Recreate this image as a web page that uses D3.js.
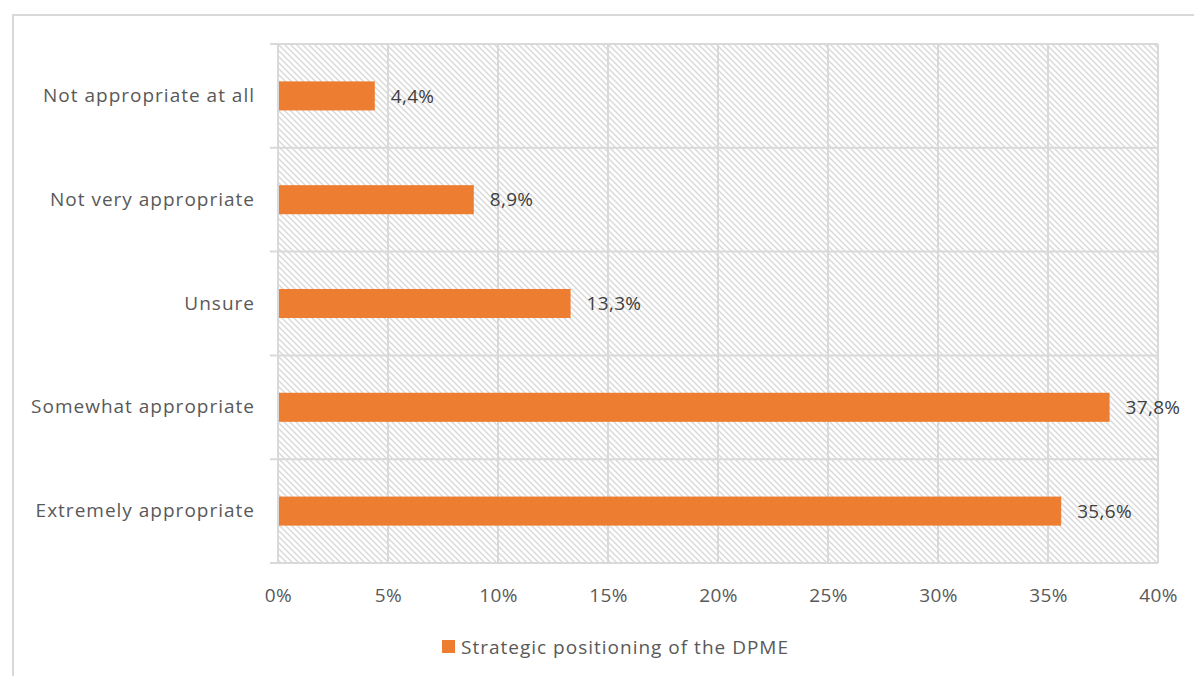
<!DOCTYPE html>
<html>
<head>
<meta charset="utf-8">
<script src="https://cdn.jsdelivr.net/npm/d3@7"></script>
<style>
  html, body { margin: 0; padding: 0; background: #fff; }
  svg { display: block; }
  text { font-family: "Open Sans", "Liberation Sans", sans-serif; }
</style>
</head>
<body>
<svg id="chart" width="1194" height="676"></svg>
<script>
// Survey responses: strategic positioning of the DPME
const categories = [
  "Not appropriate at all",
  "Not very appropriate",
  "Unsure",
  "Somewhat appropriate",
  "Extremely appropriate"
];
const shares = [4.4, 8.9, 13.3, 37.8, 35.6];
const xTicks = [0, 5, 10, 15, 20, 25, 30, 35, 40];
const seriesName = "Strategic positioning of the DPME";

const W = 1194, H = 676;
const margin = { top: 44, right: 36, bottom: 113, left: 278 };
const gridColor = "#d9d9d9";
const barColor = "#ed7d31";
const labelColor = "#595959";
const fontSize = "19px";

const svg = d3.select("#chart");

// outer frame
svg.append("rect")
  .attr("x", 13).attr("y", 15)
  .attr("width", W + 10).attr("height", H + 10)
  .attr("fill", "none").attr("stroke", gridColor).attr("stroke-width", 2);

// diagonal hatch fill for the plot area
const defs = svg.append("defs");
const pat = defs.append("pattern")
  .attr("id", "hatch")
  .attr("patternUnits", "userSpaceOnUse")
  .attr("width", 6).attr("height", 6);
pat.append("path")
  .attr("d", "M-1,-1 L7,7 M-1,5 L1,7 M5,-1 L7,1")
  .attr("stroke", gridColor).attr("stroke-width", 1.5);

const x = d3.scaleLinear()
  .domain([0, 40])
  .range([margin.left, W - margin.right]);

const y = d3.scaleBand()
  .domain(categories)
  .range([margin.top, H - margin.bottom])
  .paddingInner(0.72)
  .paddingOuter(0.36);

const plotTop = margin.top, plotBottom = H - margin.bottom;

svg.append("rect")
  .attr("x", x(0)).attr("y", plotTop)
  .attr("width", x(40) - x(0)).attr("height", plotBottom - plotTop)
  .attr("fill", "url(#hatch)");

// vertical gridlines
svg.append("g")
  .selectAll("line")
  .data(xTicks)
  .join("line")
  .attr("x1", d => x(d)).attr("x2", d => x(d))
  .attr("y1", plotTop).attr("y2", plotBottom)
  .attr("stroke", gridColor).attr("stroke-width", 2);

// horizontal band separators with tick stubs on the category axis
const bandEdges = d3.range(categories.length + 1).map(i => plotTop + i * (plotBottom - plotTop) / categories.length);
svg.append("g")
  .selectAll("line")
  .data(bandEdges)
  .join("line")
  .attr("x1", x(0) - 8).attr("x2", x(40))
  .attr("y1", d => d).attr("y2", d => d)
  .attr("stroke", gridColor).attr("stroke-width", 2);

// x axis labels
const xAxis = d3.axisBottom(x)
  .tickValues(xTicks)
  .tickFormat(d => d + "%")
  .tickSize(0)
  .tickPadding(26);
const gx = svg.append("g")
  .attr("transform", `translate(0,${plotBottom})`)
  .call(xAxis);
gx.select(".domain").remove();
gx.selectAll("text")
  .attr("fill", labelColor)
  .style("font-size", fontSize)
  .style("letter-spacing", "0.4px")
  .style("font-family", "'Open Sans', sans-serif");

// y axis labels
const yAxis = d3.axisLeft(y).tickSize(0).tickPadding(23);
const gy = svg.append("g")
  .attr("transform", `translate(${x(0)},0)`)
  .call(yAxis);
gy.select(".domain").remove();
gy.selectAll("text")
  .attr("fill", labelColor)
  .style("font-size", fontSize)
  .style("letter-spacing", "1px")
  .style("font-family", "'Open Sans', sans-serif");

// bars
const rows = categories.map((c, i) => ({ c, v: shares[i] }));
svg.append("g")
  .selectAll("rect")
  .data(rows)
  .join("rect")
  .attr("x", x(0) + 1)
  .attr("y", d => y(d.c))
  .attr("width", d => x(d.v) - x(0) - 1)
  .attr("height", y.bandwidth())
  .attr("fill", barColor);

// value labels
svg.append("g")
  .selectAll("text")
  .data(rows)
  .join("text")
  .attr("x", d => x(d.v) + 16)
  .attr("y", d => y(d.c) + y.bandwidth() / 2)
  .attr("dy", "0.35em")
  .attr("fill", "#404040")
  .style("font-size", fontSize)
  .style("letter-spacing", "0.3px")
  .text(d => d3.format(".1f")(d.v).replace(".", ",") + "%");

// legend
const lg = svg.append("g").attr("transform", "translate(442,640)");
lg.append("rect").attr("width", 13).attr("height", 13).attr("fill", barColor);
lg.append("text")
  .attr("x", 19).attr("y", 7).attr("dy", "0.35em")
  .attr("fill", labelColor)
  .style("font-size", fontSize)
  .style("letter-spacing", "1px")
  .text(seriesName);
</script>
</body>
</html>
